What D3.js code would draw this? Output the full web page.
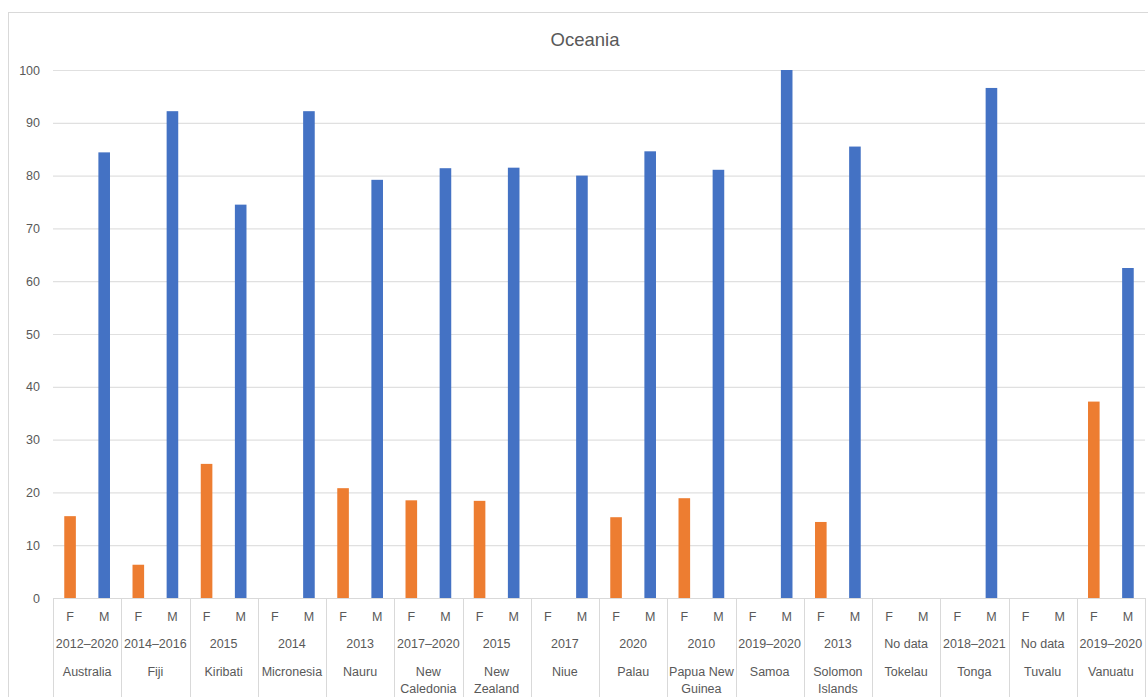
<!DOCTYPE html>
<html><head><meta charset="utf-8">
<script src="https://cdn.jsdelivr.net/npm/d3@7"></script>
<style>body{margin:0;background:#fff}svg{display:block;font-family:"Liberation Sans",Arial,sans-serif}</style>
</head><body>
<svg id="c" width="1148" height="697"></svg>
<script>
const countries = ["Australia","Fiji","Kiribati","Micronesia","Nauru","New Caledonia","New Zealand","Niue","Palau","Papua New Guinea","Samoa","Solomon Islands","Tokelau","Tonga","Tuvalu","Vanuatu"];
const countryLines = [["Australia"],["Fiji"],["Kiribati"],["Micronesia"],["Nauru"],["New","Caledonia"],["New","Zealand"],["Niue"],["Palau"],["Papua New","Guinea"],["Samoa"],["Solomon","Islands"],["Tokelau"],["Tonga"],["Tuvalu"],["Vanuatu"]];
const years = ["2012–2020","2014–2016","2015","2014","2013","2017–2020","2015","2017","2020","2010","2019–2020","2013","No data","2018–2021","No data","2019–2020"];
const sexes = ["F","M"];
const femaleValues = [15.5,6.3,25.4,null,20.8,18.5,18.4,null,15.3,18.9,null,14.4,null,null,null,37.2];
const maleValues = [84.4,92.2,74.5,92.2,79.2,81.4,81.5,80,84.6,81.1,100,85.5,null,96.6,null,62.5];
const yTicks = [0,10,20,30,40,50,60,70,80,90,100];
const colors = {F:"#ED7D31", M:"#4472C4"};

(function(){
const svg = d3.select("#c");
const pLeft = 53, pRight = 1145, pTop = 70, pBottom = 598, H = 697;
const textColor = "#595959", gridColor = "#e0e0e0";

svg.append("rect").attr("x",8.5).attr("y",12.5).attr("width",1160).attr("height",700)
  .attr("fill","none").attr("stroke","#d9d9d9").attr("stroke-width",1);

svg.append("text").attr("x",585).attr("y",46).attr("text-anchor","middle")
  .attr("fill",textColor).attr("font-size",18.5).text("Oceania");

const x = d3.scaleBand().domain(countries).range([pLeft,pRight]);
const xs = d3.scaleBand().domain(sexes).range([0,x.bandwidth()]);
const y = d3.scaleLinear().domain([0,100]).range([pBottom,pTop]);
const barW = 11.6;

const yAxis = d3.axisLeft(y).tickValues(yTicks).tickSize(-(pRight-pLeft)).tickFormat(d3.format("d"));
const gy = svg.append("g").attr("transform",`translate(${pLeft},0)`).call(yAxis);
gy.select(".domain").remove();
gy.selectAll(".tick line").attr("stroke",gridColor).attr("stroke-width",1.2);
gy.selectAll(".tick text").attr("fill",textColor).attr("font-size",12.5).attr("x",-13).attr("font-family","Liberation Sans, Arial, sans-serif");

const data = [];
countries.forEach((c,i)=>{
  data.push({c, s:"F", v:femaleValues[i]});
  data.push({c, s:"M", v:maleValues[i]});
});
svg.append("g").selectAll("rect").data(data.filter(d=>d.v!=null)).join("rect")
  .attr("x",d=>x(d.c)+xs(d.s)+xs.bandwidth()/2-barW/2)
  .attr("width",barW)
  .attr("y",d=>y(d.v))
  .attr("height",d=>y(0)-y(d.v))
  .attr("fill",d=>colors[d.s]);

svg.append("line").attr("x1",pLeft).attr("x2",pRight).attr("y1",pBottom+0.5).attr("y2",pBottom+0.5)
  .attr("stroke","#d9d9d9").attr("stroke-width",1.2);
const seps = countries.map(c=>x(c)).concat([pRight]);
svg.append("g").selectAll("line").data(seps).join("line")
  .attr("x1",d=>Math.round(d)+0.5).attr("x2",d=>Math.round(d)+0.5)
  .attr("y1",pBottom).attr("y2",H)
  .attr("stroke","#d9d9d9").attr("stroke-width",1);

const lab = svg.append("g").attr("fill",textColor).attr("font-size",12.5).attr("text-anchor","middle");
countries.forEach((c,i)=>{
  sexes.forEach(s=>{
    lab.append("text").attr("x",x(c)+xs(s)+xs.bandwidth()/2).attr("y",621).text(s);
  });
  lab.append("text").attr("x",x(c)+x.bandwidth()/2).attr("y",648).text(years[i]);
  countryLines[i].forEach((t,j)=>{
    lab.append("text").attr("x",x(c)+x.bandwidth()/2).attr("y",676+j*17).text(t);
  });
});
})();
</script>
</body></html>
